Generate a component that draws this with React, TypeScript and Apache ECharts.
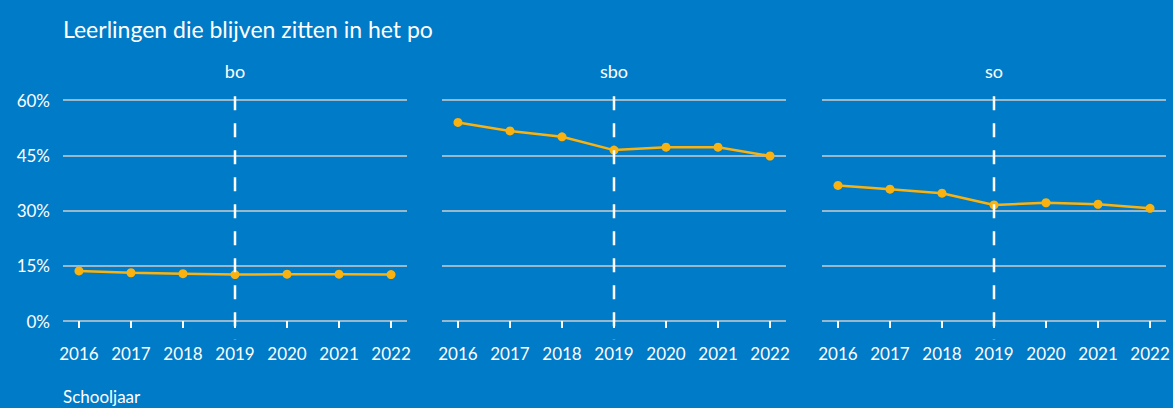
import React, { useEffect, useRef } from "react";
import * as echarts from "echarts";

const years = [2016, 2017, 2018, 2019, 2020, 2021, 2022];
const panels = ["bo", "sbo", "so"];
const boValues = [13.6, 13.1, 12.85, 12.6, 12.7, 12.7, 12.6];
const sboValues = [53.9, 51.6, 50.0, 46.4, 47.2, 47.2, 44.8];
const soValues = [36.8, 35.8, 34.7, 31.5, 32.1, 31.7, 30.6];
const yTicks = [0, 15, 30, 45, 60];
const markerYear = 2019;
const chartTitle = "Leerlingen die blijven zitten in het po";
const xAxisName = "Schooljaar";

const FONT = "Lato, 'Open Sans', sans-serif";
const BG = "#007bc7";
const LINE = "#f9b20f";
const GRID = "#9ab8cc";

export default function App() {
  const ref = useRef<HTMLDivElement>(null);
  useEffect(() => {
    document.body.style.margin = "0";
    const chart = echarts.init(ref.current!, undefined, { renderer: "svg" });
    const allValues = [boValues, sboValues, soValues];
    const lefts = [63, 442, 822];
    const gw = 344;
    const grids = lefts.map((l) => ({ left: l, top: 100, width: gw, height: 221 }));
    const xAxes = lefts.map((_, i) => ({
      type: "value",
      gridIndex: i,
      min: 2015.693,
      max: 2022.307,
      offset: 11,
      axisLine: { show: false },
      splitLine: { show: false },
      axisTick: {
        show: true,
        customValues: years,
        length: 7,
        lineStyle: { color: "#ffffff", width: 2 },
      },
      axisLabel: {
        show: true,
        customValues: years,
        formatter: (v: number) => String(v),
        color: "#ffffff",
        fontSize: 17,
        fontFamily: FONT,
        margin: 13,
      },
    }));
    const yAxes = lefts.map((_, i) => ({
      type: "value",
      gridIndex: i,
      min: 0,
      max: 60,
      interval: 15,
      axisLine: { show: false },
      axisTick: { show: false },
      splitLine: { show: true, lineStyle: { color: GRID, width: 2 } },
      axisLabel: {
        show: i === 0,
        formatter: (v: number) => (yTicks.includes(v) ? v + "%" : ""),
        color: "#ffffff",
        fontSize: 17,
        fontFamily: FONT,
        margin: 13,
      },
    }));
    const series: any[] = [];
    allValues.forEach((vals, i) => {
      series.push({
        type: "line",
        xAxisIndex: i,
        yAxisIndex: i,
        data: years.map((y, j) => [y, vals[j]]),
        symbol: "circle",
        symbolSize: 9,
        lineStyle: { color: LINE, width: 2.5 },
        itemStyle: { color: LINE },
        z: 3,
      });
      series.push({
        type: "line",
        xAxisIndex: i,
        yAxisIndex: i,
        data: [
          [markerYear, 61],
          [markerYear, -5],
        ],
        symbol: "none",
        clip: false,
        lineStyle: { color: "#ffffff", width: 2.5, type: [14, 13] },
        z: 4,
        silent: true,
      });
    });
    const titles: any[] = [
      {
        text: chartTitle,
        left: 63,
        top: 17,
        padding: 0,
        textStyle: { color: "#ffffff", fontSize: 23, fontWeight: "normal", fontFamily: FONT },
      },
      ...panels.map((p, i) => ({
        text: p,
        left: lefts[i] + gw / 2,
        top: 62,
        padding: 0,
        textAlign: "center",
        textStyle: { color: "#ffffff", fontSize: 18, fontWeight: "normal", fontFamily: FONT },
      })),
      {
        text: xAxisName,
        left: 63,
        top: 388,
        padding: 0,
        textStyle: { color: "#ffffff", fontSize: 17, fontWeight: "normal", fontFamily: FONT },
      },
    ];
    chart.setOption({
      animation: false,
      backgroundColor: BG,
      title: titles,
      grid: grids,
      xAxis: xAxes,
      yAxis: yAxes,
      series,
    });
    return () => chart.dispose();
  }, []);
  return <div ref={ref} style={{ width: 1173, height: 408 }} />;
}
